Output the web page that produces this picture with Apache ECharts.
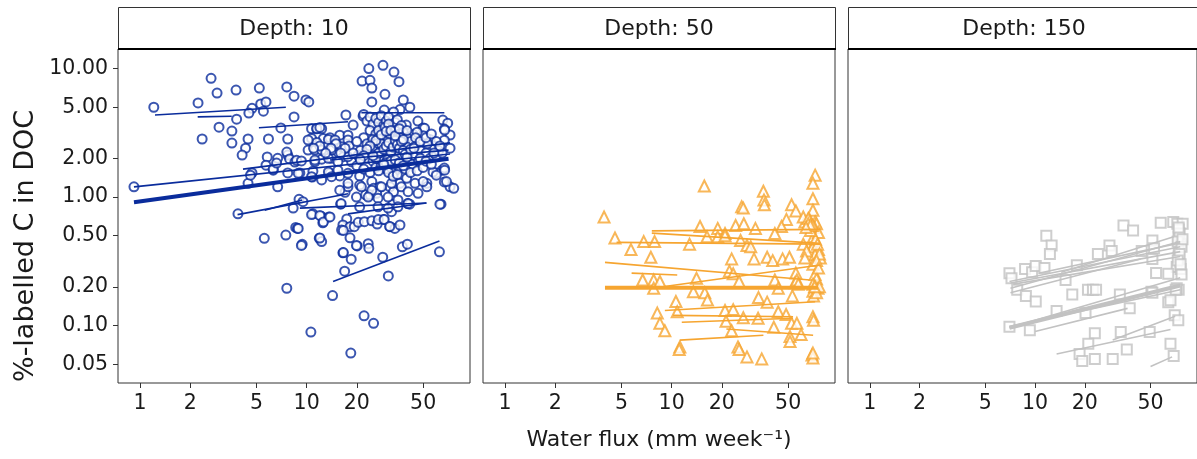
<!DOCTYPE html>
<html><head><meta charset="utf-8">
<script src="https://cdn.jsdelivr.net/npm/echarts@6/dist/echarts.min.js"></script>
<style>html,body{margin:0;padding:0;background:#fff}#c{width:1197px;height:459px}</style>
</head><body><div id="c"></div>
<script>
const panelLabels = ['Depth: 10', 'Depth: 50', 'Depth: 150'];
const xTickValues = [1, 2, 5, 10, 20, 50];
const yTickValues = [0.05, 0.1, 0.2, 0.5, 1, 2, 5, 10];
const xTitle = 'Water flux (mm week\u207B\u00B9)';
const yTitle = '%-labelled C in DOC';

const depth10Points = [
[2.67,8.4],[23.6,10.0],[28.7,10.6],[33.4,9.4],[21.5,8.0],[24.0,8.1],[35.8,7.9],[24.6,7.05],[29.5,6.3],[2.9,6.45],[3.77,6.8],[5.2,7.05],[7.6,7.2],[8.4,6.1],[9.9,5.7],[10.3,5.5],[1.21,5.0],[2.23,5.4],[4.7,4.9],[5.3,5.3],[5.7,5.5],[4.5,4.5],[5.5,4.66],[3.8,4.04],[8.4,4.2],[24.6,5.5],[38,5.7],[41.6,5.0],[36.3,4.8],[29.2,4.75],[33.2,4.6],[2.98,3.5],[3.56,3.26],[2.36,2.83],[3.56,2.63],[4.45,2.83],[4.3,2.4],[4.1,2.12],[5.9,2.83],[7.7,2.83],[7.0,3.45],[17.2,4.35],[19,3.63],[21.8,4.27],[46.5,3.9],[49.9,3.45],[65.6,3.97],[70.2,3.76],[67,3.38],[72.5,3.04],[67,2.77],[72.5,2.4],[65,1.62],[60,1.54],[67,1.68],[72.5,1.2],[67,1.31],[64,0.88],[52.6,1.28],[52.6,1.2],[0.92,1.2],[5.8,2.05],[6.7,2.0],[7.7,2.12],[4.7,1.54],[4.45,1.28],[6.7,1.2],[6.3,1.62],[7.7,1.54],[9.1,1.54],[10.8,1.43],[3.87,0.74],[8.3,0.82],[9.0,0.96],[10.9,0.74],[12.2,0.71],[13.6,0.70],[16,0.88],[17,1.09],[17.7,1.2],
[7.6,2.24],[5.7,1.77],[6.3,1.65],[6.6,1.84],[7.9,1.98],[8.5,1.87],[4.6,1.48],[8.6,0.58],
[12.5,0.63],[17.4,0.675],[16.5,0.606],[16.2,0.554],[18.2,0.588],[19.3,0.588],[20.4,0.636],[22.2,0.643],[24.6,0.654],[26.5,0.617],[28.9,0.67],[32.3,0.77],[31.6,0.588],[33.8,0.57],[36.3,0.606],[5.57,0.477],[7.5,0.506],[8.8,0.57],[9.4,0.429],[11.9,0.477],[12.3,0.45],[18.2,0.482],[20.1,0.416],[16.5,0.368],[18.5,0.328],[23.4,0.433],[23.6,0.399],[37.5,0.41],[40.2,0.43],[28.6,0.34],[16.9,0.265],[30.9,0.243],[62.6,0.375],[7.6,0.195],[14.3,0.171],[22.1,0.119],[25.2,0.104],[10.6,0.089],[18.4,0.061],[16.1,0.89],[20.8,0.84],[40.4,0.89],[41.5,0.88],[32.8,0.88],[63,0.88],
[51,3.43],[39.6,3.63],[43.6,3.07],[67.3,3.32],[10.7,3.4],[11.5,3.4],[12.3,3.4],[12.6,2.86],[13.8,2.9],[15.8,3.03],[17.7,3.03],[10.7,2.86],[11.5,2.66],[10.2,2.32],[11.2,2.32],[8.7,1.93],[9.3,1.91],[11.2,1.88],[12.3,1.97],[14.1,2.0],[16.6,2.06],[18.6,1.88],[20.4,2.12],[8.9,1.53],[10.9,1.59],[13.8,1.53],[15.8,1.46],[20.8,1.46],[15.8,1.13],[17.7,1.28],[20.8,1.24],[24.6,1.32],[25.2,1.17],[27.5,1.2],[31.6,1.2],[36.3,1.28],[39.8,1.4],[44.7,1.28],[50,1.32],[57.3,1.57],[60,1.48],[67.3,1.62],[69,1.32],[19.9,1.0],[22.6,1.04],[24,1.04],[26.3,1.07],[33.2,1.1],[9.5,0.92],[76.3,1.17],
[21.3,1.2],[24.6,1.13],[28.1,1.2],[32.3,1.28],[37,1.2],[40.6,1.1],[46.6,1.07],[23.4,1.0],[26.8,0.98],[30.8,1.0],[35.3,0.95],[40.6,0.89],[26.8,0.84],[30.8,0.82],[35.3,0.84],
[10.2,2.78],[11.5,3.42],[12,3.48],[13.5,2.81],[14.8,2.78],[17.7,2.78],[12.3,2.32],[14.1,2.32],[16.2,2.46],[11.2,1.94],[13.5,2.0],[15.4,1.88],[17.7,2.06],[13.5,1.57],[15.4,1.62],[17.7,1.53],[10.7,1.44],[12.3,1.36],[14.1,1.44],
[10.7,0.73],[12.0,0.72],[12.6,0.64],[13.8,0.70],[8.9,0.57],[12.0,0.48],[9.3,0.42],[16.6,0.55],[26.9,0.67],[29.2,0.67],[31.5,0.59],[19.9,0.42],[16.6,0.37],
[22,4.4],[23,3.9],[24,4.2],[25,3.7],[26,4.1],[27,3.8],[28,4.3],[29,3.6],[30,3.9],[31,4.2],[32,3.5],[34,3.8],[35,4.0],[37,3.6],[24,3.3],[26,3.1],[28,3.2],[30,3.4],[32,3.0],[34,3.3],[36,3.1],[38,3.2],[40,2.9],[22,2.9],[23,2.6],[25,2.8],[27,2.5],[29,2.7],[31,2.8],[33,2.6],[35,2.7],[37,2.5],[39,2.6],[42,2.7],[45,2.5],[21,2.3],[24,2.2],[26,2.4],[28,2.2],[30,2.3],[32,2.1],[34,2.3],[36,2.2],[38,2.0],[41,2.2],[44,2.1],[48,2.3],[52,2.2],[23,2.0],[25,1.9],[27,2.05],[29,1.95],[31,1.85],[33,2.0],[35,1.9],[37,1.8],[40,1.9],[43,1.8],[47,1.9],[55,2.0],[60,2.1],[26,1.7],[28,1.75],[30,1.65],[32,1.7],[34,1.6],[36,1.7],[39,1.65],[42,1.55],[46,1.6],[50,1.7],[20,1.75],[22,1.65],[24,1.55],[18,2.5],[19,2.2],[20,2.7],[17,2.4],[16,2.2],[15,2.6],[14,2.4],[13,2.2],[12,2.5],[11,2.4],[28,2.9],[30,3.0],[33,2.9],[29,2.5],[31,2.45],[33,2.35],[30,2.1],[32,2.55],[34,2.05],[27,2.35],[29,2.15],[55,2.8],[58,2.5],[62,2.3],[65,2.2],[50,3.0],[46,3.2],[53,2.6],
[27.5,2.65],[28.5,2.4],[29.5,2.85],[30.5,2.6],[31.5,2.3],[32.5,2.75],[33.5,2.5],[34.5,2.15],[35.5,2.45],[28,2.05],[29.5,2.3],[31,2.0],[32,2.35],[33,2.2],[34,2.6],[35,2.35],[36,2.0],[30,2.75],[31.5,3.1],[29,3.2],[27,2.9],[26,2.6],[25,2.3],[26.5,2.15],[36.5,2.9],[37.5,2.25],[38.5,2.4],[40,2.45],[28.5,1.9],[30.5,1.95],[33.5,1.8],[35.5,2.1],[27,3.3],[29.5,3.5],[31,3.7],
[26,2.0],[27,2.2],[28,2.6],[29,2.35],[30,2.5],[31,2.65],[32,2.25],[33,2.45],[34,2.75],[35,2.55],[36,2.4],[37,2.7],[38,2.3],[39,2.15],[30,1.85],[32,1.9],[34,1.95],[36,1.85],[38,1.75],[40,2.05],[42,2.35],[44,2.4],[26,2.75],[28,3.05],[30,3.25],[32,3.3],[34,3.0],[36,3.4],[38,2.8],[40,3.3],[24,2.5],[25,2.1],[23,2.35],[22,2.1],[21,1.95],[27,1.6],[29,1.8],[31,1.55],[33,1.45],[35,1.5],
[45,2.9],[48,2.7],[52,2.9],[56,3.1],[60,2.7],[63,2.5],[48,2.0],[52,1.9],[56,1.8],[58,2.2]
];
const depth10OverallFit = [0.92, 0.91, 71, 1.99];
const depth10GroupFits = [
[1.23,4.35,7.5,5.0],[2.22,4.21,3.55,4.26],[5.17,3.46,17.7,3.85],[21.3,4.53,67,4.53],
[0.92,1.2,72.5,2.16],[4.15,1.65,72.5,2.64],[3.85,0.73,17.7,1.06],[5.6,0.79,9.4,0.95],
[9.1,0.82,52.3,0.90],[17.7,0.74,52.3,0.90],[14.4,0.22,62.6,0.455],[13.8,1.94,71,2.32]
];

const depth50Points = [
[3.93,0.70],[4.57,0.48],[5.7,0.39],[6.8,0.45],[7.9,0.45],[7.5,0.34],[6.7,0.226],[7.8,0.226],[8.5,0.22],[7.8,0.195],[10.6,0.154],[10.8,0.128],[8.2,0.125],[8.5,0.104],[9.1,0.091],[11.2,0.068],[11.1,0.065],[15.7,1.22],[12.8,0.43],[14.1,0.233],[13.5,0.183],[15.8,0.18],[16.4,0.158],[14.8,0.59],[18.9,0.57],[20.9,0.52],[24.2,0.6],[27.1,0.62],[31.8,0.57],[16.3,0.49],[18.9,0.49],[20.9,0.5],[25.9,0.46],[28.3,0.42],[29.8,0.41],[26.3,0.84],[26.9,0.82],[35.5,1.11],[35.8,0.95],[36,0.87],[22.9,0.33],[31.2,0.33],[37.4,0.34],[22.2,0.265],[23.4,0.253],[25.4,0.22],[33.2,0.165],[37.4,0.152],[20.9,0.131],[23.4,0.133],[21.2,0.108],[26.9,0.115],[33,0.114],[22.9,0.091],[41,0.097],[25,0.068],[25.4,0.065],[28.3,0.057],[34.7,0.055],[40.4,0.32],[46.3,0.33],[50.9,0.34],[41.6,0.226],[43.6,0.195],[55.6,0.256],[55,0.215],[53,0.17],[43.6,0.128],[48.6,0.122],[52.4,0.104],[56.4,0.104],[51.3,0.082],[51.3,0.075],[59.8,0.085],[52.4,0.87],[55.6,0.78],[48.8,0.67],[45.6,0.59],[41.6,0.52],[72.6,1.48],[70.4,1.28],[70.4,0.97],[70.4,0.79],[67.5,0.66],[63,0.64],[72.6,0.64],[61.6,0.7],[66,0.68],[71,0.49],[73,0.45],[70.4,0.41],[76,0.39],[72.5,0.355],[78,0.335],[70.4,0.3],[72.5,0.25],[74,0.23],[70.4,0.21],[75.5,0.195],[70.4,0.185],[71,0.17],[61.6,0.43],[64.5,0.38],[63,0.335],[56.4,0.226],[57.5,0.21],[70.4,0.117],[71,0.11],[69.5,0.059],[70.4,0.056],[70.4,0.061],
[74,0.62],[72,0.58],[76,0.53],[73,0.47],[75,0.43],[77,0.36],[74,0.32],[76,0.28],[73,0.2],[77,0.2],[74,0.18],[72,0.2],[70,0.6],[68,0.55],[66,0.62],[68,0.6],[64,0.58]
];
const depth50OverallFit = [3.98, 0.197, 75.5, 0.197];
const depth50GroupFits = [
[3.98,0.31,67.5,0.226],[7.8,0.196,77.8,0.296],[5.75,0.256,10.8,0.247],[4.67,0.444,77.8,0.43],
[7.6,0.545,77.8,0.56],[7.6,0.524,77.8,0.436],[9.1,0.131,72.6,0.153],[10.2,0.12,53.5,0.117],
[11.5,0.106,53.5,0.114],[11.2,0.077,35.5,0.084],[21.3,0.094,70.6,0.084]
];

const depth150Points = [
[11.7,0.5],[12.6,0.42],[12.3,0.36],[7.0,0.255],[7.2,0.233],[8.7,0.275],[9.6,0.26],[10.1,0.29],[11.4,0.28],[7.8,0.19],[8.8,0.17],[10.1,0.154],[7.0,0.098],[9.3,0.092],[13.5,0.13],[15.3,0.226],[17.9,0.295],[16.8,0.174],[20.2,0.125],[20.9,0.19],[22.4,0.19],[23.4,0.19],[24,0.36],[28.2,0.42],[29.1,0.38],[23,0.087],[21,0.072],[18.6,0.06],[19.3,0.053],[23,0.055],[29.5,0.055],[35.9,0.065],[32.6,0.174],[37.4,0.136],[33,0.089],[34.3,0.6],[39.2,0.55],[44.2,0.38],[51.3,0.46],[52.5,0.40],[51.3,0.33],[54,0.256],[50.6,0.183],[49.4,0.089],[57.6,0.63],[64,0.152],[66,0.072],[69,0.058],[68.6,0.64],[72.6,0.62],[78.2,0.62],[74,0.56],[74,0.49],[76,0.43],[74,0.39],[74,0.34],[72,0.285],[76,0.275],[77,0.25],[74,0.19],[72,0.195],[71,0.19],[70,0.12],[73.6,0.11],[64,0.253],[66,0.157],[51.3,0.18],
[75,0.52],[73,0.45],[77,0.41],[75,0.36],[73,0.32],[76,0.3],[74,0.58],[78,0.47]
];
const depth150OverallFit = [7.0, 0.096, 75.6, 0.205];
const depth150GroupFits = [
[7.0,0.096,75.6,0.235],[7.0,0.098,75.6,0.19],[10,0.09,36.3,0.136],[13.5,0.06,66,0.093],
[29.5,0.077,70.5,0.118],[50,0.048,67.5,0.057],[7.1,0.195,75.6,0.45],[7.1,0.214,75.6,0.376],
[7.0,0.22,75.6,0.41],[7.4,0.21,75.6,0.345],[10.5,0.255,75.6,0.44],[7.1,0.18,43.5,0.33],[14.4,0.26,69,0.49]
];

const FONT = '"DejaVu Sans", Arial, sans-serif';
const X_MIN = 0.738, X_MAX = 95.5, Y_MIN = 0.0357, Y_MAX = 14.2;
const panels = [
  {points: depth10Points, fit: depth10OverallFit, groups: depth10GroupFits, color: '#0a2c9c', lineColor: '#0a2c9c', symbol: 'emptyCircle', size: 9},
  {points: depth50Points, fit: depth50OverallFit, groups: depth50GroupFits, color: '#f6a530', lineColor: '#f6a530', symbol: 'emptyTriangle', size: 11},
  {points: depth150Points, fit: depth150OverallFit, groups: depth150GroupFits, color: '#c2c2c2', lineColor: '#c2c2c2', symbol: 'emptyRect', size: 10}
];
const PL = 118, PT = 49, PW = 352, PH = 334, STEP = 365, STRIP_TOP = 7;

const grids = [], xAxes = [], yAxes = [], series = [], graphics = [];
panels.forEach((p, i) => {
  const left = PL + STEP * i;
  grids.push({left: left, top: PT, width: PW, height: PH, show: true, borderColor: '#333', borderWidth: 1, backgroundColor: '#fff'});
  xAxes.push({
    type: 'log', logBase: 10, gridIndex: i, min: X_MIN, max: X_MAX,
    axisLine: {show: false}, splitLine: {show: false}, minorTick: {show: false},
    axisTick: {show: true, length: 5, lineStyle: {color: '#333', width: 1}, customValues: xTickValues},
    axisLabel: {show: true, customValues: xTickValues, margin: 10, fontSize: 20.5, fontFamily: FONT, color: '#1a1a1a',
      formatter: v => String(Math.round(v))}
  });
  yAxes.push({
    type: 'log', logBase: 10, gridIndex: i, min: Y_MIN, max: Y_MAX,
    axisLine: {show: false}, splitLine: {show: false},
    axisTick: {show: i === 0, length: 5, lineStyle: {color: '#333', width: 1}, customValues: yTickValues},
    axisLabel: {show: i === 0, customValues: yTickValues, margin: 10, fontSize: 20.5, fontFamily: FONT, color: '#1a1a1a',
      formatter: v => Number(v).toFixed(2)}
  });
  series.push({
    type: 'scatter', xAxisIndex: i, yAxisIndex: i, data: p.points, symbol: p.symbol, symbolSize: p.size,
    itemStyle: {color: p.color, borderColor: p.color, borderWidth: 1.3, opacity: 0.8}, z: 2, silent: true
  });
  p.groups.forEach(g => {
    series.push({type: 'line', xAxisIndex: i, yAxisIndex: i, data: [[g[0], g[1]], [g[2], g[3]]], symbol: 'none',
      lineStyle: {color: p.lineColor, width: 1.6}, z: 3, silent: true});
  });
  series.push({type: 'line', xAxisIndex: i, yAxisIndex: i, data: [[p.fit[0], p.fit[1]], [p.fit[2], p.fit[3]]], symbol: 'none',
    lineStyle: {color: p.lineColor, width: 4}, z: 4, silent: true});
  graphics.push({type: 'rect', shape: {x: left + 0.5, y: STRIP_TOP + 0.5, width: PW, height: PT - STRIP_TOP}, style: {fill: '#fff', stroke: '#333', lineWidth: 1}, z: 10});
  graphics.push({type: 'line', shape: {x1: left, y1: PT, x2: left + PW + 1, y2: PT}, style: {stroke: '#000', lineWidth: 2}, z: 11});
  graphics.push({type: 'text', x: left + PW / 2, y: (STRIP_TOP + PT) / 2 + 1, style: {text: panelLabels[i], font: '22px ' + FONT, fill: '#1a1a1a', textAlign: 'center', textVerticalAlign: 'middle'}, z: 12});
});
graphics.push({type: 'text', x: (PL + PL + 2 * STEP + PW) / 2, y: 440, style: {text: xTitle, font: '22px ' + FONT, fill: '#1a1a1a', textAlign: 'center', textVerticalAlign: 'middle'}});
graphics.push({type: 'text', x: 26, y: 246, rotation: Math.PI / 2, style: {text: yTitle, font: '27px ' + FONT, fill: '#1a1a1a', textAlign: 'center', textVerticalAlign: 'middle'}});

const chart = echarts.init(document.getElementById('c'), null, {renderer: 'canvas'});
chart.setOption({animation: false, backgroundColor: '#fff', grid: grids, xAxis: xAxes, yAxis: yAxes, series: series, graphic: graphics});
</script></body></html>
